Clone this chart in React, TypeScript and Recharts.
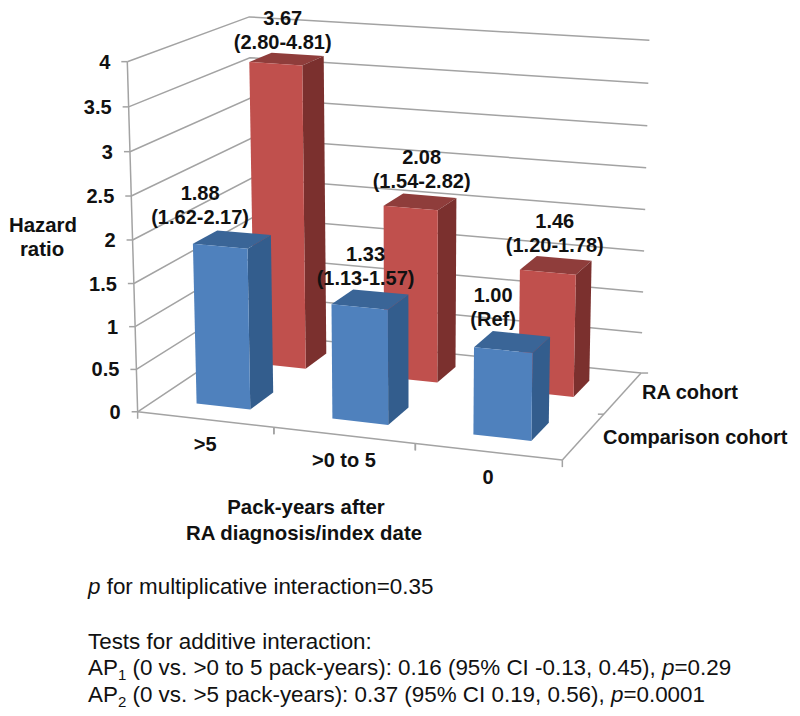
import React from 'react';
import { BarChart, Bar, XAxis, YAxis, CartesianGrid } from 'recharts';

const categories = ['>5', '>0 to 5', '0'];
const comparisonValues = [1.88, 1.33, 1.0];
const raValues = [3.67, 2.08, 1.46];
const comparisonCI = ['(1.62-2.17)', '(1.13-1.57)', '(Ref)'];
const raCI = ['(2.80-4.81)', '(1.54-2.82)', '(1.20-1.78)'];
const yTicks = [0, 0.5, 1, 1.5, 2, 2.5, 3, 3.5, 4];
const seriesNames = ['RA cohort', 'Comparison cohort'];
const data = categories.map((category, i) => ({
  category,
  comparison: comparisonValues[i],
  ra: raValues[i],
}));

const W = 800;
const H = 716;
const M = 100;
const AXIS = 10;
const plotW = W - 2 * M;
const plotH = H - 2 * M;
const FONT = '"Liberation Sans", Arial, sans-serif';
const GRID = '#a3a3a3';

// Perspective calibration of the chart frame: [across, depth, height, screen x, screen y]
const frame: number[][] = [
  [0, 0, 0, 138, 410], [0, 0, 0.25, 133, 326], [0, 0, 0.5, 132, 239], [0, 0, 0.75, 131, 152], [0, 0, 1, 128, 63],
  [1, 0, 0, 563, 462],
  [0, 1, 0, 256, 337], [0, 1, 0.25, 254, 257], [0, 1, 0.5, 252, 177], [0, 1, 0.75, 250, 97], [0, 1, 1, 248, 17],
  [1, 1, 0, 640, 372], [1, 1, 0.25, 642.5, 291], [1, 1, 0.5, 645, 209], [1, 1, 0.75, 648, 126], [1, 1, 1, 650, 41],
];

function solve(A: number[][], b: number[]) {
  const n = b.length;
  const m = A.map((r, i) => [...r, b[i]]);
  for (let c = 0; c < n; c++) {
    let p = c;
    for (let r = c + 1; r < n; r++) if (Math.abs(m[r][c]) > Math.abs(m[p][c])) p = r;
    [m[c], m[p]] = [m[p], m[c]];
    for (let r = 0; r < n; r++) {
      if (r === c) continue;
      const f = m[r][c] / m[c][c];
      for (let k = c; k <= n; k++) m[r][k] -= f * m[c][k];
    }
  }
  return m.map((r, i) => r[n] / r[i]);
}

function fitProjection() {
  const rows: number[][] = [];
  const rhs: number[] = [];
  frame.forEach(([u, d, v, x, y]) => {
    rows.push([1, u, d, v, 0, 0, 0, 0, -x * u, -x * d, -x * v]);
    rhs.push(x);
    rows.push([0, 0, 0, 0, 1, u, d, v, -y * u, -y * d, -y * v]);
    rhs.push(y);
  });
  const N = rows[0].length;
  const AtA = Array.from({ length: N }, (_, i) =>
    Array.from({ length: N }, (_, j) => rows.reduce((s, r) => s + r[i] * r[j], 0)),
  );
  const Atb = Array.from({ length: N }, (_, i) => rows.reduce((s, r, k) => s + r[i] * rhs[k], 0));
  return solve(AtA, Atb);
}
const P = fitProjection();

function project(u: number, d: number, v: number): [number, number] {
  const w = 1 + P[8] * u + P[9] * d + P[10] * v;
  return [(P[0] + P[1] * u + P[2] * d + P[3] * v) / w, (P[4] + P[5] * u + P[6] * d + P[7] * v) / w];
}
const pts = (list: [number, number][]) => list.map((p) => p.map((n) => n.toFixed(1)).join(',')).join(' ');
const toU = (x: number) => (x - M) / plotW;
const toV = (y: number) => (M + plotH - y) / plotH;

const makeShape = (d0: number, d1: number, front: string, top: string, side: string) => (props: any) => {
  const { x, y, width, height } = props;
  const u0 = toU(x);
  const u1 = toU(x + width);
  const v = toV(y);
  const v0 = toV(y + height);
  return (
    <g>
      <polygon points={pts([project(u0, d0, v), project(u1, d0, v), project(u1, d1, v), project(u0, d1, v)])} fill={top} />
      <polygon points={pts([project(u1, d0, v0), project(u1, d1, v0), project(u1, d1, v), project(u1, d0, v)])} fill={side} />
      <polygon points={pts([project(u0, d0, v0), project(u1, d0, v0), project(u1, d0, v), project(u0, d0, v)])} fill={front} />
    </g>
  );
};

const boldText = { fontFamily: FONT, fontWeight: 700, fontSize: 20, fill: '#111' };

const makeLabel = (d0: number, ci: string[], dx: number[], dy: number[]) => (props: any) => {
  const { x, y, width, value, index } = props;
  const [px, py] = project(toU(x + width / 2), d0, toV(y));
  const cx = px + dx[index];
  const cy = py + dy[index];
  return (
    <g>
      <text x={cx} y={cy - 24} textAnchor="middle" dominantBaseline="central" {...boldText}>
        {Number(value).toFixed(2)}
      </text>
      <text x={cx} y={cy} textAnchor="middle" dominantBaseline="central" {...boldText}>
        {ci[index]}
      </text>
    </g>
  );
};

const line = (a: [number, number], b: [number, number], k: any) => (
  <line key={k} x1={a[0]} y1={a[1]} x2={b[0]} y2={b[1]} stroke={GRID} strokeWidth={1.5} />
);

const wallLine = (props: any) => {
  const v = toV(props.y1 ?? props.y);
  return (
    <polyline
      key={props.key ?? props.index}
      points={pts([project(0, 0, v), project(0, 1, v), project(1, 1, v)])}
      fill="none"
      stroke={GRID}
      strokeWidth={1.5}
    />
  );
};

const YTick = (props: any) => {
  const { y, payload } = props;
  const [px, py] = project(0, 0, toV(y));
  return (
    <g>
      <line x1={px} y1={py} x2={px - 6} y2={py} stroke={GRID} strokeWidth={1.5} />
      <text x={px - 17} y={py} textAnchor="end" dominantBaseline="central" {...boldText}>
        {payload.value}
      </text>
    </g>
  );
};

const XTick = (props: any) => {
  const { x, payload, index } = props;
  const u = toU(x);
  const [px, py] = project(u, 0, 0);
  const a = project(index / 3, 0, 0);
  const b = project((index + 1) / 3, 0, 0);
  return (
    <g>
      {line(a, b, 'edge')}
      {line(a, [a[0], a[1] + 7], 'tick')}
      {line(b, [b[0], b[1] + 7], 'tick2')}
      <text x={px} y={py + 25} textAnchor="middle" dominantBaseline="central" {...boldText}>
        {payload.value}
      </text>
    </g>
  );
};

const DepthAxis = () => {
  const a = project(1, 0, 0);
  const m = project(1, 0.5, 0);
  const b = project(1, 1, 0);
  return (
    <g>
      {line(project(0, 0, 0), project(0, 0, 1), 'vertical')}
      {line(a, b, 'depth')}
      {line(m, [m[0] - 6, m[1]], 'mid')}
      {line(b, [b[0] + 7, b[1]], 'end')}
      <text x={642} y={392} dominantBaseline="central" {...boldText}>{seriesNames[0]}</text>
      <text x={603} y={437} dominantBaseline="central" {...boldText}>{seriesNames[1]}</text>
      <text x={43} y={225} textAnchor="middle" dominantBaseline="central" {...boldText} fontSize={20.4}>Hazard</text>
      <text x={42} y={249} textAnchor="middle" dominantBaseline="central" {...boldText} fontSize={20.4}>ratio</text>
      <text x={306} y={507} textAnchor="middle" dominantBaseline="central" {...boldText} fontSize={20.4}>Pack-years after</text>
      <text x={304} y={533} textAnchor="middle" dominantBaseline="central" {...boldText} fontSize={20.4}>RA diagnosis/index date</text>
    </g>
  );
};

const noteStyle = (top: number): React.CSSProperties => ({
  position: 'absolute',
  left: 88,
  top,
  fontFamily: FONT,
  fontSize: 22.4,
  lineHeight: '24px',
  color: '#111',
  whiteSpace: 'nowrap',
});

export default function App() {
  return (
    <div style={{ position: 'absolute', left: 0, top: 0, width: W, height: H, background: '#fff' }}>
      <BarChart
        width={W}
        height={H}
        data={data}
        margin={{ top: M, right: M, bottom: M - AXIS, left: M - AXIS }}
        barCategoryGap="30%"
      >
        <CartesianGrid xAxisId="blue" horizontal={wallLine} vertical={false} />
        <XAxis xAxisId="red" dataKey="category" hide />
        <XAxis xAxisId="blue" dataKey="category" height={AXIS} axisLine={false} tickLine={false} tick={XTick} interval={0} />
        <YAxis width={AXIS} domain={[0, 4]} ticks={yTicks} axisLine={false} tickLine={false} tick={YTick} interval={0} />
        <Bar
          xAxisId="red"
          dataKey="ra"
          isAnimationActive={false}
          shape={makeShape(0.65, 0.85, '#C0504D', '#8F3D3B', '#7B302E')}
          label={makeLabel(0.65, raCI, [7, 11, 7], [-22, -27, -27])}
        />
        <Bar
          xAxisId="blue"
          dataKey="comparison"
          isAnimationActive={false}
          shape={makeShape(0.15, 0.35, '#4F81BD', '#3A6597', '#335D8D')}
          label={makeLabel(0.15, comparisonCI, [-20, 6, -10], [-29, -29, -31])}
        />
        <DepthAxis />
      </BarChart>
      <div style={noteStyle(575)}><i>p</i> for multiplicative interaction=0.35</div>
      <div style={noteStyle(630)}>Tests for additive interaction:</div>
      <div style={noteStyle(656)}>AP<sub style={{ fontSize: 15, lineHeight: 0 }}>1</sub> (0 vs. &gt;0 to 5 pack-years): 0.16 (95% CI -0.13, 0.45), <i>p</i>=0.29</div>
      <div style={noteStyle(683)}>AP<sub style={{ fontSize: 15, lineHeight: 0 }}>2</sub> (0 vs. &gt;5 pack-years): 0.37 (95% CI 0.19, 0.56), <i>p</i>=0.0001</div>
    </div>
  );
}
